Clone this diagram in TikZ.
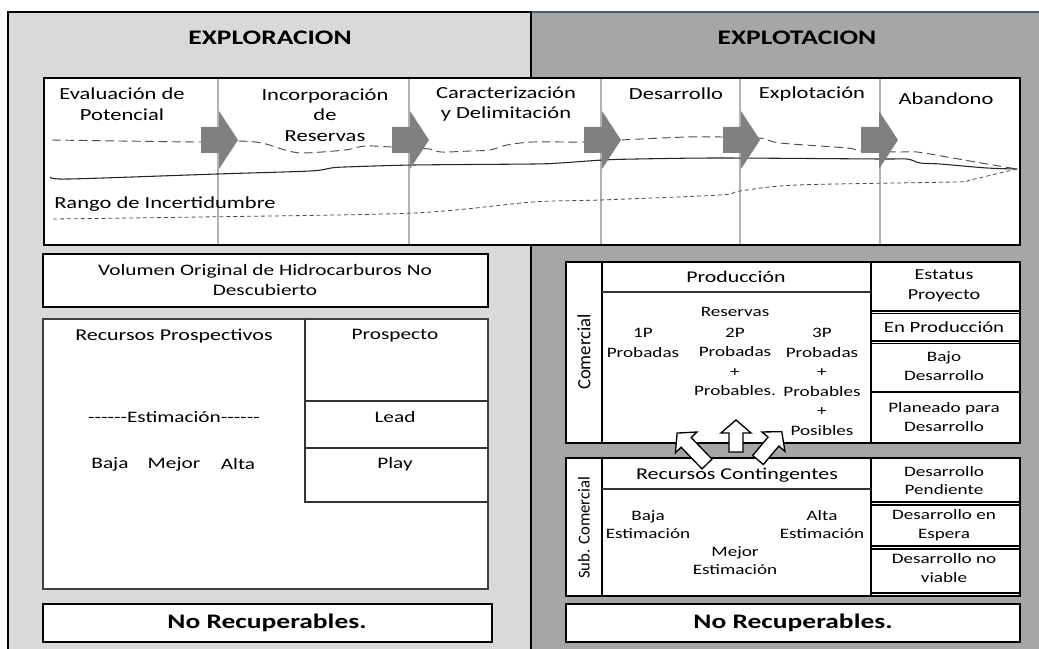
\documentclass[tikz,border=0pt]{standalone}
\usepackage{fontspec}
\setmainfont{Carlito}[FakeStretch=1.33, Ligatures=TeXOff]
\newfontfamily\uprightfont{Carlito}
\usetikzlibrary{positioning}
\definecolor{explorgray}{HTML}{D9D9D9}
\definecolor{explotgray}{HTML}{A6A6A6}
\definecolor{phasegray}{HTML}{808080}
\definecolor{frameblue}{HTML}{3F5F8C}
\tikzset{
    lbl/.style={font=\fontsize{12}{15}\selectfont, align=center, inner sep=0pt},
    phaselbl/.style={lbl, font=\fontsize{12.7}{15.3}\selectfont},
    celllbl/.style={lbl, font=\fontsize{10.8}{14.6}\selectfont},
    title/.style={font=\fontsize{15.5}{18}\selectfont\bfseries, inner sep=0pt},
    boxthick/.style={draw=black, line width=2.2pt, fill=white},
    boxthin/.style={draw=black!75, line width=0.9pt, fill=white},
    sepline/.style={black!80, line width=0.8pt},
    sidelbl/.style={font=\uprightfont\fontsize{12.5}{15}\selectfont, rotate=90, inner sep=0pt},
    phasearrow/.pic={\fill[phasegray] (-18,-13) -- (0,-13) -- (0,-29) -- (19,0) -- (0,29) -- (0,13) -- (-18,13) -- cycle;},
}
\begin{document}
\begin{tikzpicture}[x=0.75pt, y=-0.75pt]
    \useasboundingbox (0,0) rectangle (1039,649);
    \fill[white] (0,0) rectangle (1039,649);
    \fill[explorgray] (8,12) rectangle (531,649);
    \fill[explotgray] (531,12) rectangle (1039,649);
    \draw[frameblue, line width=1.5pt] (531,12) -- (1039,12);
    \draw[line width=2.2pt] (8,649) -- (8,12) -- (531,12) -- (531,649);
    \node[title] (explora) at (270,38) {EXPLORACION};
    \node[title] (explota) at (797,38) {EXPLOTACION};

    \draw[boxthick] (44,78) rectangle (1020,245);
    \foreach \x in {218, 409, 601, 740, 880} {
        \draw[black!30, line width=0.8pt] (\x,79) -- (\x,244);
    }
    \draw[black!70, line width=0.7pt, dash pattern=on 6.5pt off 3.5pt] plot[smooth, tension=0.5] coordinates {(52,140) (120,141) (200,142) (238,141) (262,143) (285,150) (303,153) (345,150) (365,146) (391,147) (429,149) (441,152) (470,151) (490,150) (507,145) (533,142) (582,142) (620,140) (687,137) (722,137) (760,138) (780,143) (847,148) (861,151) (898,152) (917,152) (947,157) (987,164) (1017,169)};
    \draw[black!85, line width=0.8pt] plot[smooth, tension=0.5] coordinates {(51,177) (69,179) (217,174) (310,171) (331,168) (345,167) (414,165) (533,164) (560,163) (603,160) (637,159) (720,158) (880,159) (907,159) (920,163) (940,164) (987,168) (1017,169)};
    \draw[black!70, line width=0.6pt, dash pattern=on 3pt off 2.2pt] plot[smooth, tension=0.5] coordinates {(53,219) (200,217) (414,213) (533,202) (600,200) (720,195) (740,191) (797,185) (953,182) (970,180) (1000,173) (1017,169)};
    \foreach \x in {219, 410, 602, 741, 879} {
        \pic at (\x,140) {phasearrow};
    }
    \node[phaselbl] (evalpot) at (122,104) {Evaluación de\\Potencial};
    \node[phaselbl] (incorp) at (325,115) {Incorporación\\de\\Reservas};
    \node[phaselbl] (caract) at (506,104) {Caracterización\\y Delimitación};
    \node[phaselbl] (desarr) at (676,94) {Desarrollo};
    \node[phaselbl] (explot) at (812,94) {Explotación};
    \node[phaselbl] (aband) at (946,99) {Abandono};
    \node[phaselbl, anchor=west] (rango) at (54,204) {Rango de Incertidumbre};

    \draw[boxthick] (43,254) rectangle (488,307);
    \node[lbl] (volumen) at (265,280) {Volumen Original de Hidrocarburos No\\Descubierto};
    \draw[boxthin] (43,319) rectangle (488,589);
    \draw[sepline] (305,319) -- (305,502) -- (488,502);
    \draw[sepline] (305,401) -- (488,401);
    \draw[sepline] (305,448) -- (488,448);
    \node[lbl, font=\fontsize{12.4}{15}\selectfont] (recprosp) at (174,336) {Recursos Prospectivos};
    \node[lbl] (prospecto) at (395,336) {Prospecto};
    \node[lbl] (estim) at (174,417) {------Estimación------};
    \node[lbl] (lead) at (395,417) {Lead};
    \node[lbl] (play) at (395,464) {Play};
    \node[lbl] (baja) at (110,464) {Baja};
    \node[lbl] (mejor) at (174,464) {Mejor};
    \node[lbl] (alta) at (238,464) {Alta};
    \draw[boxthick] (43,604) rectangle (492,642);
    \node[title] (norecup) at (267,623) {No Recuperables.};

    \draw[boxthick] (566,262) rectangle (1020,443);
    \draw[black, line width=1.6pt] (602,262) -- (602,443);
    \draw[black, line width=1.2pt] (871,262) -- (871,443);
    \draw[sepline] (602,292) -- (871,292);
    \foreach \y in {311, 313.5, 341, 343.5, 392} {
        \draw[black, line width=0.8pt] (871,\y) -- (1019,\y);
    }
    \node[sidelbl, font=\uprightfont\fontsize{14}{16}\selectfont] (comercial) at (584,352) {Comercial};
    \node[lbl, font=\fontsize{12.3}{15}\selectfont] (produccion) at (736,277) {Producción};
    \node[celllbl, font=\fontsize{11.4}{14.5}\selectfont] (estatus) at (944,286) {Estatus\\Proyecto};
    \node[lbl, font=\fontsize{11.7}{15}\selectfont] (enprod) at (944,327) {En Producción};
    \node[celllbl] (bajodes) at (944,366) {Bajo\\Desarrollo};
    \node[celllbl] (planeado) at (944,417) {Planeado para\\Desarrollo};
    \node[celllbl] (reservas) at (735,312) {Reservas};
    \node[celllbl] (unop) at (643,343) {1P\\Probadas};
    \node[celllbl] (dosp) at (735,362) {2P\\Probadas\\+\\Probables.};
    \node[celllbl] (tresp) at (822,382) {3P\\Probadas\\+\\Probables\\+\\Posibles};

    \draw[boxthick] (566,458) rectangle (1020,596);
    \draw[black, line width=1.6pt] (602,458) -- (602,596);
    \draw[black, line width=1.2pt] (871,458) -- (871,596);
    \draw[sepline] (602,489) -- (871,489);
    \foreach \y in {502, 505, 546, 549, 593} {
        \draw[black, line width=0.8pt] (871,\y) -- (1019,\y);
    }
    \foreach \bx/\by/\ang/\len in {707/464/44/43, 736/452/0/32, 758/460/-40/37} {
        \draw[black, line width=1pt, fill=white, shift={(\bx,\by)}, rotate=\ang]
            (-7,0) -- (-7,-\len+13) -- (-15,-\len+13) -- (0,-\len) -- (15,-\len+13) -- (7,-\len+13) -- (7,0) -- cycle;
    }
    \node[sidelbl] (subcom) at (584,528) {Sub. Comercial};
    \node[lbl, font=\fontsize{12.4}{15}\selectfont] (contingentes) at (737,475) {Recursos Contingentes};
    \node[celllbl, font=\fontsize{10.8}{13.5}\selectfont] (pendiente) at (944,481) {Desarrollo\\Pendiente};
    \node[celllbl] (espera) at (944,525) {Desarrollo en\\Espera};
    \node[celllbl] (noviable) at (944,568) {Desarrollo no\\viable};
    \node[celllbl, font=\fontsize{10.8}{13.5}\selectfont] (bajaest) at (648,525) {Baja\\Estimación};
    \node[celllbl, font=\fontsize{10.8}{13.5}\selectfont] (altaest) at (822,525) {Alta\\Estimación};
    \node[celllbl, font=\fontsize{10.8}{13.5}\selectfont] (mejorest) at (735,561) {Mejor\\Estimación};

    \draw[boxthick] (566,604) rectangle (1020,642);
    \node[title] (norecup2) at (793,623) {No Recuperables.};
\end{tikzpicture}
\end{document}
